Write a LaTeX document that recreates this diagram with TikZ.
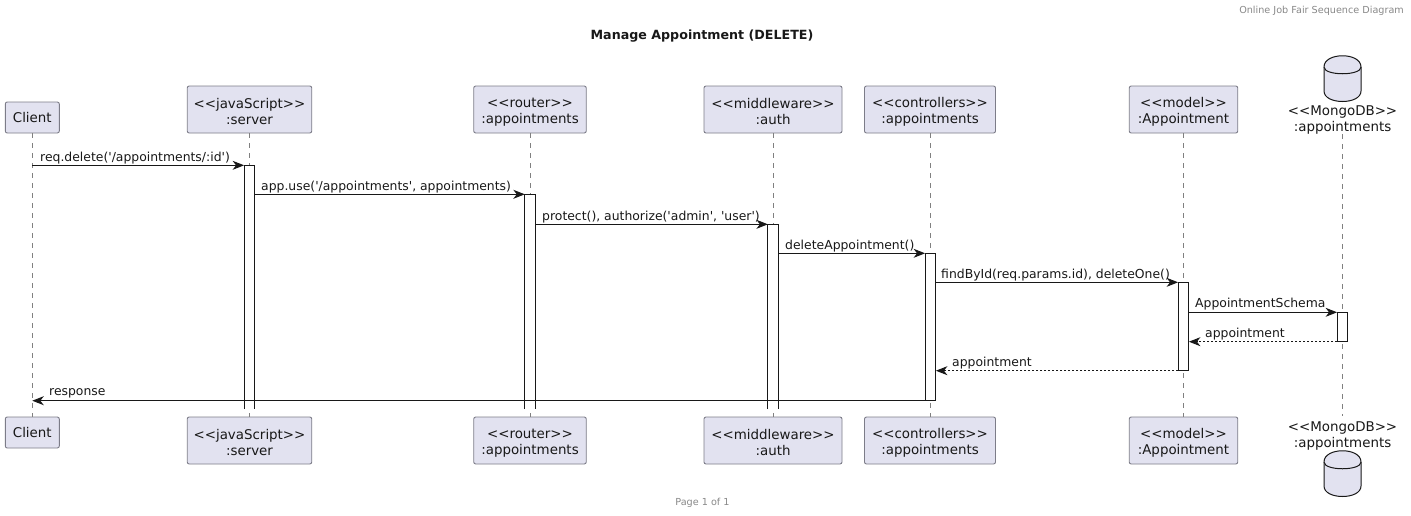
\documentclass[tikz,border=0pt]{standalone}
\usepackage{fontspec}
\setmainfont[Ligatures=TeXOff]{DejaVu Sans}
\usetikzlibrary{arrows.meta,calc,positioning}
\definecolor{partFill}{HTML}{E2E2F0}
\definecolor{partLine}{HTML}{7C7C88}
\definecolor{ink}{HTML}{181818}
\definecolor{lifeGray}{HTML}{808080}
\definecolor{noteGray}{HTML}{888888}
\newcommand{\twolines}[2]{\rule{0pt}{15pt}#1\\#2}
\tikzset{
  every node/.style={text=ink},
  part box/.style={
    rounded corners=2pt,
    draw=partLine,
    fill=partFill,
    line width=0.9pt,
    align=center,
    inner sep=0pt,
    font=\fontsize{13.4}{16}\selectfont
  },
  db label/.style={align=center,inner sep=0pt,font=\fontsize{13.4}{16}\selectfont},
  db can/.style={draw=ink,fill=partFill,line width=1pt},
  life line/.style={draw=lifeGray,line width=0.7pt,dash pattern=on 5pt off 5pt},
  act bar/.style={fill=white,inner sep=0pt,minimum width=10.4pt},
  bar edge/.style={draw=ink,line width=1pt},
  flow arrow/.style={-{Stealth[inset=3.5pt,length=11.5pt,width=9pt]},line width=1pt,draw=ink},
  back arrow/.style={flow arrow,dash pattern=on 2pt off 2pt},
  msg label/.style={font=\fontsize{12.4}{14}\selectfont,anchor=base west,inner sep=0pt},
  page note/.style={font=\fontsize{9.65}{11}\selectfont,text=noteGray,inner sep=0pt},
}
\begin{document}
\begin{tikzpicture}[x=1pt,y=-1pt]
  \useasboundingbox (0,0) rectangle (1411,515);

  % top row
  \node[part box,minimum width=54pt,minimum height=31pt] (clientTop) at (32.3,117.5) {Client};
  \node[part box,minimum width=124.5pt,minimum height=47pt] (serverTop) at (249.5,109.5) {\twolines{<<javaScript>>}{:server}};
  \node[part box,minimum width=112.5pt,minimum height=47pt] (routerTop) at (530,109.5) {\twolines{<<router>>}{:appointments}};
  \node[part box,minimum width=138pt,minimum height=47pt] (authTop) at (773,109.5) {\twolines{<<middleware>>}{:auth}};
  \node[part box,minimum width=131pt,minimum height=47pt] (ctrlTop) at (930,109.5) {\twolines{<<controllers>>}{:appointments}};
  \node[part box,minimum width=108.5pt,minimum height=47pt] (modelTop) at (1183.5,109.5) {\twolines{<<model>>}{:Appointment}};
  \node[db label] (dbTop) at (1342.5,117) {\twolines{<<MongoDB>>}{:appointments}};

  % bottom row
  \node[part box,minimum width=54pt,minimum height=31pt] (clientBot) at (32.3,432.5) {Client};
  \node[part box,minimum width=124.5pt,minimum height=47pt] (serverBot) at (249.5,440.5) {\twolines{<<javaScript>>}{:server}};
  \node[part box,minimum width=112.5pt,minimum height=47pt] (routerBot) at (530,440.5) {\twolines{<<router>>}{:appointments}};
  \node[part box,minimum width=138pt,minimum height=47pt] (authBot) at (773,440.5) {\twolines{<<middleware>>}{:auth}};
  \node[part box,minimum width=131pt,minimum height=47pt] (ctrlBot) at (930,440.5) {\twolines{<<controllers>>}{:appointments}};
  \node[part box,minimum width=108.5pt,minimum height=47pt] (modelBot) at (1183.5,440.5) {\twolines{<<model>>}{:Appointment}};
  \node[db label] (dbBot) at (1342.5,433) {\twolines{<<MongoDB>>}{:appointments}};

  % database cans
  \draw[db can] (1324,67) .. controls (1324,52) and (1361,52) .. (1361,67)
    -- (1361,91) .. controls (1361,105) and (1324,105) .. (1324,91) -- cycle;
  \draw[db can] (1324,67) .. controls (1324,76) and (1361,76) .. (1361,67);
  \draw[db can] (1324,462) .. controls (1324,447) and (1361,447) .. (1361,462)
    -- (1361,486) .. controls (1361,500) and (1324,500) .. (1324,486) -- cycle;
  \draw[db can] (1324,462) .. controls (1324,471) and (1361,471) .. (1361,462);

  % lifelines
  \draw[life line] (clientTop) -- (clientBot);
  \draw[life line] (serverTop) -- (serverBot);
  \draw[life line] (routerTop) -- (routerBot);
  \draw[life line] (authTop) -- (authBot);
  \draw[life line] (ctrlTop) -- (ctrlBot);
  \draw[life line] (modelTop) -- (modelBot);
  \draw[life line] (dbTop) -- (dbBot);

  % activations, the first three run on past the last message with no end line
  \node[act bar,minimum height=243.5pt] (serverBar) at (249.5,287.25) {};
  \node[act bar,minimum height=214.5pt] (routerBar) at (530.2,301.75) {};
  \node[act bar,minimum height=184.5pt] (authBar) at (773.3,316.75) {};
  \node[act bar,minimum height=147pt] (ctrlBar) at (930.5,327) {};
  \node[act bar,minimum height=88pt] (modelBar) at (1183.5,326.5) {};
  \node[act bar,minimum height=29pt] (dbBar) at (1342.5,327) {};
  \draw[bar edge] (serverBar.south west) -- (serverBar.north west) -- (serverBar.north east) -- (serverBar.south east);
  \draw[bar edge] (routerBar.south west) -- (routerBar.north west) -- (routerBar.north east) -- (routerBar.south east);
  \draw[bar edge] (authBar.south west) -- (authBar.north west) -- (authBar.north east) -- (authBar.south east);
  \draw[bar edge] (ctrlBar.north west) rectangle (ctrlBar.south east);
  \draw[bar edge] (modelBar.north west) rectangle (modelBar.south east);
  \draw[bar edge] (dbBar.north west) rectangle (dbBar.south east);

  % messages
  \draw[flow arrow] (clientTop.center |- serverBar.north) -- (serverBar.north west);
  \draw[flow arrow] (serverBar.east |- routerBar.north) -- (routerBar.north west);
  \draw[flow arrow] (routerBar.east |- authBar.north) -- (authBar.north west);
  \draw[flow arrow] (authBar.east |- ctrlBar.north) -- (ctrlBar.north west);
  \draw[flow arrow] (ctrlBar.east |- modelBar.north) -- (modelBar.north west);
  \draw[flow arrow] (modelBar.east |- dbBar.north) -- (dbBar.north west);
  \draw[back arrow] (dbBar.south west) -- (modelBar.east |- dbBar.south);
  \draw[back arrow] (modelBar.south west) -- (ctrlBar.east |- modelBar.south);
  \draw[flow arrow] (ctrlBar.south west) -- (clientTop.center |- ctrlBar.south);

  % labels
  \node[msg label] (m1) at (40,161) {req.delete('/appointments/:id')};
  \node[msg label] (m2) at (261,190) {app.use('/appointments', appointments)};
  \node[msg label] (m3) at (542,220) {protect(), authorize('admin', 'user')};
  \node[msg label] (m4) at (785,249) {deleteAppointment()};
  \node[msg label] (m5) at (941,278) {findById(req.params.id), deleteOne()};
  \node[msg label] (m6) at (1195,307) {AppointmentSchema};
  \node[msg label] (m7) at (1205,337) {appointment};
  \node[msg label] (m8) at (952,366) {appointment};
  \node[msg label] (m9) at (49,395) {response};

  \node[font=\fontsize{12.66}{15}\selectfont\bfseries,inner sep=0pt] (title) at (702,36.5) {Manage Appointment (DELETE)};
  \node[page note,anchor=east] (header) at (1404,11) {Online Job Fair Sequence Diagram};
  \node[page note] (footer) at (702.5,503) {Page 1 of 1};
\end{tikzpicture}
\end{document}
